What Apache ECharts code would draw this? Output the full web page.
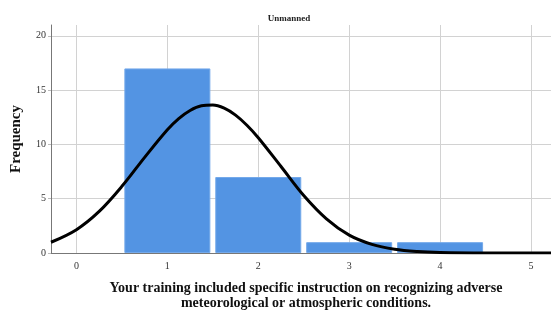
<!DOCTYPE html>
<html>
<head>
<meta charset="utf-8">
<script src="https://cdn.jsdelivr.net/npm/echarts@6/dist/echarts.min.js"></script>
<style>
  html, body { margin: 0; padding: 0; background: #fff; }
  #chart { width: 551px; height: 312px; }
</style>
</head>
<body>
<div id="chart"></div>
<script>
// histogram bins (response value -> count)
const binValues = [1, 2, 3, 4];
const binCounts = [17, 7, 1, 1];

// normal curve
const curveX = [-0.28, 0, 0.25, 0.5, 0.75, 1, 1.125, 1.25, 1.375, 1.5, 1.625, 1.75, 1.875, 2, 2.25, 2.5, 2.75, 3, 3.25, 3.5, 3.75, 4, 4.5, 5, 5.22];
const curveY = [0.99, 2.15, 3.83, 6.14, 8.81, 11.35, 12.38, 13.13, 13.56, 13.63, 13.34, 12.7, 11.77, 10.62, 7.97, 5.3, 3.15, 1.65, 0.8, 0.35, 0.14, 0.05, 0.004, 0, 0];

const xTicks = [0, 1, 2, 3, 4, 5];
const yTicks = [0, 5, 10, 15, 20];

const serif = '"Liberation Serif", "DejaVu Serif", serif';

const chart = echarts.init(document.getElementById('chart'), null, { renderer: 'canvas' });

chart.setOption({
  animation: false,
  title: {
    text: 'Unmanned',
    left: 284, top: 9,
    textAlign: 'center',
    textStyle: { fontFamily: serif, fontSize: 9, fontWeight: 'bold', color: '#222' }
  },
  grid: { left: 51, right: 0, top: 25, bottom: 59, outerBoundsMode: 'none' },
  xAxis: {
    type: 'value',
    min: -0.28, max: 5.22,
    axisLine: { show: true, lineStyle: { color: '#777', width: 1 } },
    axisTick: { show: false, customValues: xTicks },
    axisLabel: { customValues: xTicks, margin: 8, fontFamily: serif, fontSize: 10, color: '#333' },
    splitLine: { show: true, lineStyle: { color: '#d2d2d2', width: 1 } },
    name: 'Your training included specific instruction on recognizing adverse\nmeteorological or atmospheric conditions.',
    nameLocation: 'middle',
    nameGap: 28,
    nameTextStyle: { fontFamily: serif, fontSize: 14, fontWeight: 'bold', color: '#111', lineHeight: 15, padding: [0, 0, 0, 10] }
  },
  yAxis: {
    type: 'value',
    min: 0, max: 21,
    axisLine: { show: true, onZero: false, lineStyle: { color: '#777', width: 1 } },
    axisTick: { show: true, customValues: yTicks, length: 3, inside: false, lineStyle: { color: '#bbb' } },
    axisLabel: { customValues: yTicks, margin: 5, fontFamily: serif, fontSize: 10, color: '#333' },
    splitLine: { show: true, lineStyle: { color: '#d2d2d2', width: 1 } },
    name: 'Frequency',
    nameLocation: 'middle',
    nameRotate: 90,
    nameGap: 27,
    nameTextStyle: { fontFamily: serif, fontSize: 15, fontWeight: 'bold', color: '#111' }
  },
  series: [
    {
      type: 'bar',
      data: binValues.map((v, i) => [v, binCounts[i]]),
      barWidth: 86,
      itemStyle: { color: '#5394e3', borderColor: '#74a9ea', borderWidth: 1 },
      z: 2
    },
    {
      type: 'line',
      data: curveX.map((x, i) => [x, curveY[i]]),
      smooth: 0.35,
      showSymbol: false,
      lineStyle: { color: '#000', width: 3 },
      z: 3
    }
  ]
});
</script>
</body>
</html>
